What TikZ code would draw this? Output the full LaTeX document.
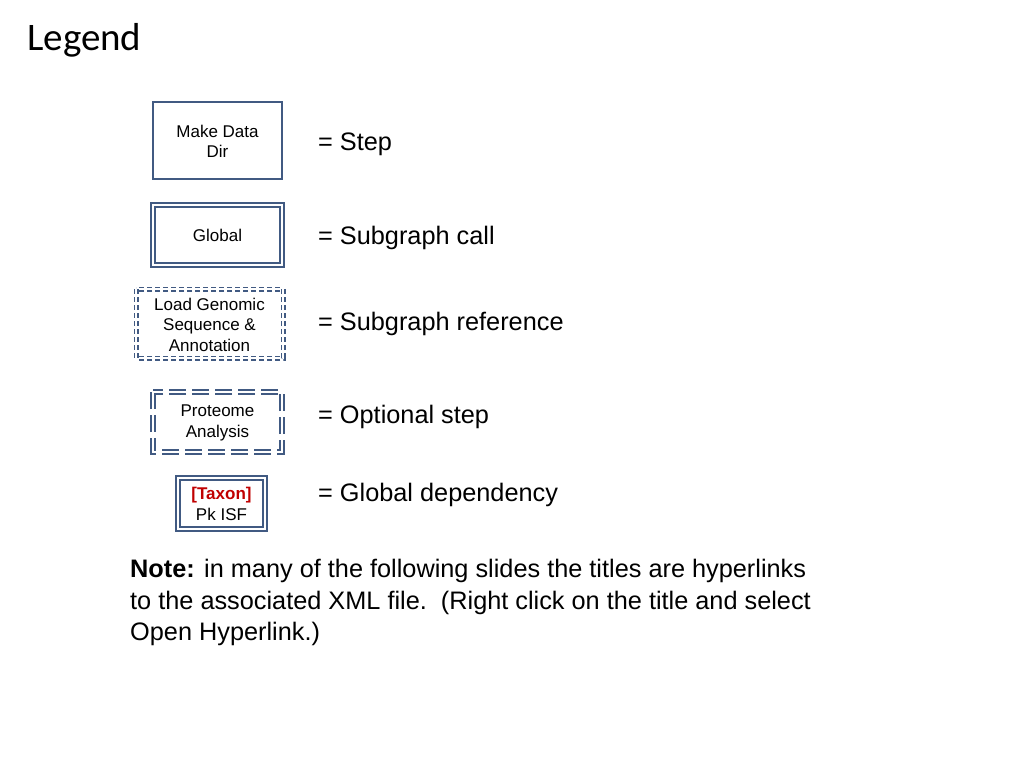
\documentclass[tikz,border=0pt]{standalone}
\usepackage{fontspec}
\setmainfont{Liberation Sans}
\newfontfamily\titlefont{Carlito}
\definecolor{boxblue}{RGB}{65,90,130}
\definecolor{taxred}{RGB}{192,0,0}
\begin{document}
\begin{tikzpicture}[x=1pt,y=-1pt,
  boxtext/.style={align=center,font=\fontsize{17}{20.5}\selectfont,inner sep=0pt},
  stepbox/.style={draw=boxblue,line width=1.4pt},
  callbox/.style={draw=boxblue,line width=1.5pt,double=white,double distance=2.5pt},
  refbox/.style={draw=boxblue,line width=1.5pt,double=white,double distance=2pt,dash pattern=on 5pt off 3pt},
  optbox/.style={draw=boxblue,line width=1.5pt,double=white,double distance=2.5pt,dash pattern=on 17pt off 6pt},
  label/.style={anchor=west,font=\fontsize{25.3}{30}\selectfont,inner sep=0pt}]
\useasboundingbox (0,0) rectangle (1024,768);
\node[anchor=west,font=\titlefont\fontsize{39}{44}\selectfont,inner sep=0pt] (title) at (27,40) {Legend};
% step
\draw[stepbox] (153,102) rectangle (282,179);
\node[boxtext] (s1) at (217.5,141.5) {Make Data\\Dir};
\node[label] (l1) at (318,144) {= Step};
% subgraph call
\draw[callbox] (153,205) rectangle (282,265);
\node[boxtext] (s2) at (217.5,235) {Global};
\node[label] (l2) at (318,238) {= Subgraph call};
% subgraph reference
\draw[refbox] (136,289) rectangle (283,358);
\node[boxtext] (s3) at (209.5,324.5) {Load Genomic\\Sequence \&\\Annotation};
\node[label] (l3) at (318,324) {= Subgraph reference};
% optional step
\draw[optbox] (153,392) rectangle (282,452);
\node[boxtext] (s4) at (217.5,423) {Proteome\\Analysis};
\node[label] (l4) at (318,417) {= Optional step};
% global dependency
\draw[callbox] (178,478) rectangle (265,529);
\node[boxtext] (s5) at (221.5,504) {\textcolor{taxred}{\textbf{[Taxon]}}\\Pk ISF};
\node[label] (l5) at (318,495) {= Global dependency};
% note
\node[anchor=north west,align=left,inner sep=0pt,font=\fontsize{25.3}{31.5}\selectfont] (note) at (130,559)
 {\textbf{Note:} in many of the following slides the titles are hyperlinks\\to the associated XML file.\ \ (Right click on the title and select\\Open Hyperlink.)};
\end{tikzpicture}
\end{document}
